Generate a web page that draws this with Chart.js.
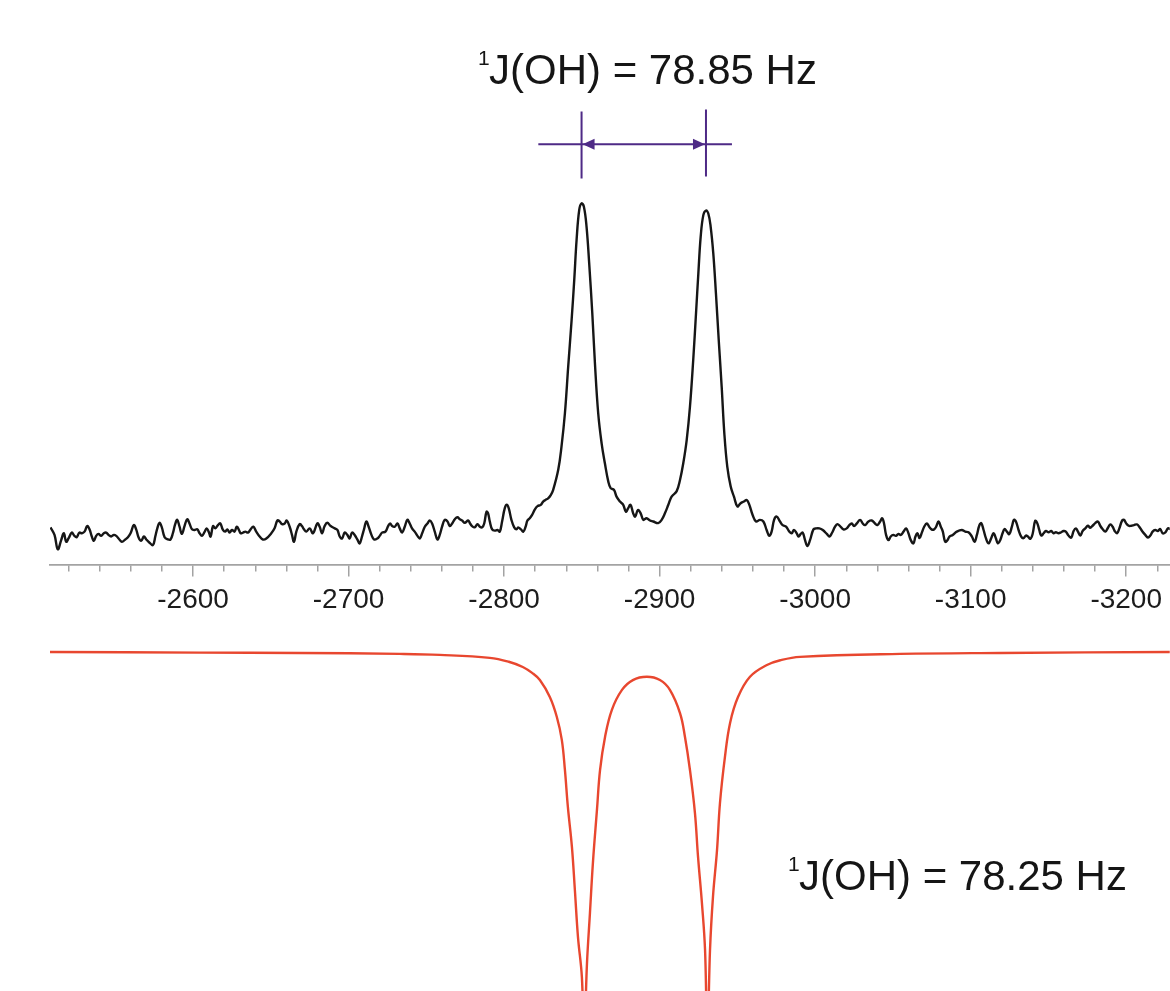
<!DOCTYPE html>
<html lang="en">
<head>
    <meta charset="UTF-8">
    <title>17O NMR doublet</title>
    <script src="https://cdn.jsdelivr.net/npm/chart.js"></script>
    <style>
        html, body { margin: 0; padding: 0; background: #fff; }
        .wrap { width: 1170px; height: 991px; position: relative; }
    </style>
</head>
<body>
    <div class="wrap">
        <canvas id="myChart"></canvas>
    </div>
    <script>
        // measured spectrum: [shift (Hz), intensity] with the tallest line ~100
        const observed = [
            [-2508.3,0.8],[-2510.9,-1.5],[-2513.0,-5.9],[-2515.2,-3.1],[-2516.9,-1.0],[-2518.4,-3.6],[-2519.9,-2.6],[-2522.0,-0.8],
            [-2523.7,-1.8],[-2525.2,-2.2],[-2526.9,-0.8],[-2528.5,-1.0],[-2530.2,-0.5],[-2531.9,1.2],[-2533.4,0.2],[-2534.9,-2.0],
            [-2536.2,-3.3],[-2537.7,-1.8],[-2539.2,-1.2],[-2540.9,-1.8],[-2542.6,-1.0],[-2544.1,-0.8],[-2545.6,-1.5],[-2547.3,-2.0],
            [-2549.1,-1.5],[-2550.6,-1.8],[-2552.1,-2.6],[-2554.2,-3.6],[-2556.4,-2.9],[-2558.1,-2.2],[-2559.8,-1.0],[-2561.9,1.5],
            [-2563.4,0.2],[-2564.9,-2.2],[-2566.6,-3.3],[-2568.4,-2.0],[-2569.9,-2.9],[-2572.0,-3.9],[-2574.2,-4.6],[-2575.7,-2.0],
            [-2577.0,0.5],[-2578.4,2.2],[-2579.9,0.8],[-2581.7,-2.2],[-2583.8,-2.9],[-2585.5,-2.9],[-2587.0,-1.0],[-2588.5,1.8],
            [-2589.8,3.1],[-2591.3,1.0],[-2592.8,-1.2],[-2594.5,1.2],[-2596.2,3.3],[-2597.7,2.0],[-2599.3,0.2],[-2601.0,0.0],
            [-2602.7,0.2],[-2604.2,-1.0],[-2605.7,-1.8],[-2607.4,-0.6],[-2608.7,0.5],[-2610.0,-0.5],[-2611.3,-2.0],[-2612.8,1.2],
            [-2614.3,0.5],[-2616.0,1.5],[-2617.5,2.0],[-2619.2,0.0],[-2620.7,-0.5],[-2622.0,0.2],[-2623.5,-0.8],[-2625.0,0.0],
            [-2626.7,-0.5],[-2628.0,1.0],[-2629.3,0.2],[-2630.6,-1.0],[-2632.1,-0.8],[-2633.6,-0.5],[-2635.3,-0.8],[-2637.0,0.2],
            [-2638.7,1.0],[-2640.6,-0.5],[-2642.8,-2.0],[-2644.9,-2.9],[-2647.1,-2.6],[-2650.3,-1.0],[-2652.4,0.5],[-2654.2,2.9],
            [-2655.7,2.6],[-2657.2,1.8],[-2658.9,2.0],[-2660.2,2.9],[-2662.1,1.0],[-2663.6,-1.5],[-2664.9,-3.6],[-2666.4,-0.5],
            [-2668.5,1.8],[-2670.0,1.2],[-2671.3,0.2],[-2672.8,-0.5],[-2675.0,0.5],[-2677.1,-1.0],[-2679.9,2.0],[-2681.4,1.0],
            [-2682.9,-1.0],[-2684.6,1.2],[-2686.3,2.2],[-2688.5,1.2],[-2691.1,0.5],[-2692.8,0.0],[-2694.3,-2.0],[-2695.8,-2.6],
            [-2697.5,-0.8],[-2699.2,-1.5],[-2700.7,-2.6],[-2702.2,-0.8],[-2703.9,-1.5],[-2705.6,-2.9],[-2707.1,-4.1],[-2708.6,-2.0],
            [-2709.9,0.2],[-2711.4,2.6],[-2712.9,1.0],[-2714.7,-1.5],[-2716.4,-2.9],[-2718.5,-2.6],[-2720.0,-1.8],[-2721.5,-0.8],
            [-2723.7,-0.5],[-2725.4,1.2],[-2726.7,2.0],[-2728.0,1.2],[-2729.7,1.0],[-2731.4,2.0],[-2732.9,0.5],[-2734.4,-0.8],
            [-2736.1,1.0],[-2737.8,3.1],[-2739.3,2.0],[-2740.8,0.5],[-2742.5,-0.5],[-2744.3,-1.8],[-2745.8,-2.6],[-2747.3,-1.0],
            [-2749.0,1.0],[-2750.7,2.0],[-2752.2,2.9],[-2753.7,2.0],[-2755.4,-0.5],[-2757.1,-2.9],[-2758.6,-1.5],[-2760.1,1.0],
            [-2761.8,3.1],[-2763.6,2.6],[-2765.1,1.2],[-2766.6,2.0],[-2768.3,3.3],[-2770.0,3.9],[-2771.5,3.3],[-2773.0,2.9],
            [-2774.7,2.2],[-2776.9,2.9],[-2778.1,2.0],[-2779.4,1.2],[-2781.1,0.8],[-2782.9,1.8],[-2784.4,1.0],[-2785.9,0.8],
            [-2787.2,2.0],[-2788.7,5.6],[-2789.7,5.1],[-2790.8,2.6],[-2792.3,0.2],[-2794.0,-0.2],[-2795.7,0.0],[-2797.2,-0.5],
            [-2798.7,2.6],[-2800.4,6.6],[-2801.7,7.7],[-2803.0,6.6],[-2804.7,3.1],[-2806.5,0.8],[-2808.0,0.2],[-2809.0,0.8],
            [-2810.8,0.2],[-2812.3,-0.5],[-2813.8,1.0],[-2815.0,2.9],[-2816.5,3.6],[-2818.0,4.6],[-2819.8,6.3],[-2821.5,7.3],
            [-2823.6,7.7],[-2825.1,8.7],[-2826.6,9.2],[-2828.3,9.7],[-2830.0,10.7],[-2831.5,12.2],
            // doublet
            [-2834.8,18.4],[-2836.9,25.5],[-2839.1,35.7],[-2841.2,49.9],[-2843.4,64.2],[-2845.1,76.5],[-2846.6,88.7],[-2848.3,97.9],
            [-2849.8,99.9],[-2851.3,98.9],[-2853.0,92.8],[-2854.7,81.6],[-2856.7,66.3],[-2858.4,51.0],[-2860.5,35.7],[-2862.7,26.5],
            [-2864.8,20.4],[-2867.0,14.8],[-2868.5,12.8],[-2870.6,12.3],[-2872.3,10.2],[-2874.5,8.7],[-2876.6,7.7],[-2878.3,5.6],
            [-2879.8,6.7],[-2881.3,7.7],[-2883.0,5.1],[-2884.3,4.1],[-2886.0,6.1],[-2887.8,5.1],[-2889.5,3.1],[-2891.6,3.6],
            [-2893.8,2.9],[-2895.9,2.6],[-2899.1,2.1],[-2901.3,3.1],[-2903.4,5.1],[-2905.6,7.7],[-2907.7,10.2],[-2910.9,11.8],
            [-2913.1,15.3],[-2915.2,20.4],[-2917.4,27.5],[-2919.5,37.7],[-2921.6,52.0],[-2923.4,66.3],[-2924.9,78.5],[-2926.4,89.7],
            [-2928.1,96.3],[-2929.8,97.7],[-2931.3,96.8],[-2932.8,92.8],[-2934.5,84.6],[-2936.2,72.4],[-2938.0,58.1],[-2939.9,43.8],
            [-2941.6,29.6],[-2943.5,19.4],[-2945.7,13.3],[-2947.8,10.2],[-2950.0,7.2],[-2952.1,8.2],[-2954.2,8.7],[-2956.0,9.2],
            [-2957.7,7.7],[-2959.8,4.6],[-2962.0,2.6],[-2964.5,3.1],[-2966.7,2.6],[-2968.8,0.0],[-2970.5,-1.8],[-2972.0,-0.5],
            [-2973.6,3.1],[-2975.3,4.1],[-2977.4,2.6],
            [-2979.1,1.5],[-2981.3,1.0],[-2983.4,-0.5],[-2984.9,-1.0],[-2986.4,0.0],[-2988.1,-1.0],[-2989.4,-2.0],[-2990.7,-1.2],
            [-2992.0,-0.8],[-2993.5,-3.1],[-2995.0,-4.9],[-2996.7,-3.1],[-2998.9,0.2],[-3000.6,0.5],[-3002.7,0.5],[-3004.9,0.0],
            [-3007.5,-1.2],[-3009.2,-2.0],[-3010.7,-1.0],[-3012.8,1.0],[-3014.3,1.8],[-3016.0,1.2],[-3018.2,0.2],[-3020.3,0.5],
            [-3022.0,1.5],[-3023.5,2.0],[-3025.0,1.2],[-3026.8,2.0],[-3028.9,3.1],[-3030.6,2.0],[-3032.1,1.5],[-3034.3,2.6],
            [-3036.4,2.9],[-3038.5,2.0],[-3040.0,1.5],[-3041.8,2.6],[-3043.1,3.6],[-3044.3,2.0],[-3045.6,-1.5],[-3047.1,-3.1],
            [-3048.6,-2.0],[-3050.3,-1.5],[-3051.9,-1.8],[-3053.6,-1.2],[-3055.1,-1.5],[-3056.8,-0.5],[-3058.5,0.5],[-3060.0,-1.0],
            [-3061.5,-3.1],[-3063.2,-4.1],[-3064.5,-2.0],[-3065.8,-1.0],[-3067.1,-2.5],[-3068.6,-0.8],[-3070.1,1.0],[-3071.8,2.0],
            [-3073.3,1.0],[-3074.8,0.2],[-3076.5,0.2],[-3077.8,1.0],[-3079.3,2.6],[-3080.8,1.0],[-3082.1,-0.5],[-3083.6,-3.6],
            [-3085.1,-3.1],[-3086.4,-2.0],[-3088.5,-1.5],[-3091.1,-0.5],[-3094.3,0.0],[-3096.5,-0.5],[-3098.6,-0.7],[-3100.8,-2.0],
            [-3102.5,-3.6],[-3104.0,-1.5],[-3105.5,1.3],[-3106.8,2.1],[-3108.3,0.0],[-3109.8,-2.5],[-3111.5,-4.1],[-3113.2,-2.5],
            [-3114.7,-1.0],[-3116.2,-2.5],[-3117.5,-4.1],[-3119.0,-3.1],[-3120.5,-1.0],[-3121.8,0.3],[-3123.3,-0.5],[-3124.8,-1.3],
            [-3126.5,1.0],[-3127.8,3.1],[-3129.1,2.6],[-3130.8,0.0],[-3132.5,-2.0],[-3134.0,-2.5],[-3135.5,-1.7],[-3136.8,-2.0],
            [-3138.3,-2.7],[-3139.8,-1.3],[-3141.5,2.8],[-3142.8,2.1],[-3144.1,0.0],[-3145.4,-1.7],[-3146.9,-1.0],[-3148.4,-0.3],
            [-3150.1,-0.7],[-3151.8,-0.3],[-3153.3,-1.0],[-3154.8,-0.7],[-3156.5,-1.0],[-3158.2,-0.7],[-3159.7,-0.3],[-3161.2,-0.5],
            [-3162.9,-1.7],[-3164.7,-2.3],[-3166.2,-0.3],[-3167.7,0.5],[-3169.0,-0.5],[-3170.5,-1.7],[-3172.0,-0.3],[-3173.7,0.5],
            [-3175.4,1.3],[-3176.9,0.7],[-3178.4,1.3],[-3180.1,2.1],[-3181.8,2.6],[-3183.3,1.3],[-3184.8,0.3],[-3186.6,-0.5],
            [-3188.3,0.7],[-3189.8,1.7],[-3191.3,1.0],[-3192.6,-0.3],[-3194.1,-1.0],[-3195.6,0.5],[-3197.3,2.8],[-3198.6,3.1],
            [-3199.9,2.1],[-3201.6,1.3],[-3203.3,1.3],[-3205.0,1.5],[-3206.9,1.7],[-3208.4,1.0],[-3210.2,-0.3],[-3212.3,-1.5],
            [-3214.0,-2.3],[-3215.5,-1.7],[-3217.0,-0.5],[-3218.7,0.0],[-3220.4,-0.3],[-3221.9,0.3],[-3223.4,-1.0],[-3225.2,-0.7],
            [-3226.9,0.5],[-3228.4,0.3]
        ];

        // simulated doublet, plotted downwards on its own scale
        const simulated = [
            [-2507.7,0.0],[-2604.2,-0.2],[-2668.5,-0.3],[-2732.9,-0.6],[-2758.6,-0.9],[-2790.8,-1.8],[-2803.0,-3.0],[-2812.0,-4.6],
            [-2818.0,-6.4],[-2823.0,-8.6],[-2829.4,-13.8],[-2833.9,-19.9],[-2837.1,-26.9],[-2839.1,-36.1],[-2841.0,-47.4],
            [-2843.6,-59.6],[-2845.5,-72.8],[-2847.5,-87.2],[-2850.0,-99.4],[-2851.4,-118.7],[-2853.3,-95.1],[-2855.2,-79.8],
            [-2857.1,-64.5],[-2859.7,-48.3],[-2861.7,-36.1],[-2864.9,-26.0],[-2869.3,-17.7],[-2875.8,-11.6],[-2882.8,-8.6],
            [-2891.8,-7.6],[-2900.2,-8.6],[-2906.6,-11.6],[-2913.1,-18.7],[-2916.3,-26.0],[-2919.5,-36.1],[-2922.7,-49.2],
            [-2924.7,-62.7],[-2927.2,-76.8],[-2929.2,-91.1],[-2930.7,-118.7],[-2932.4,-91.1],[-2934.3,-74.9],[-2936.9,-60.6],
            [-2938.8,-46.2],[-2942.0,-32.1],[-2945.3,-21.7],[-2950.4,-13.8],[-2958.1,-7.6],[-2969.0,-4.0],[-2978.0,-2.5],
            [-2990.3,-1.5],[-3054.6,-0.6],[-3119.0,-0.3],[-3228.4,0.0]
        ];

        const shiftRange = [-3228, -2508];
        const majorTicks = [-2600, -2700, -2800, -2900, -3000, -3100, -3200];
        const minorTicks = [-2520, -2540, -2560, -2580, -2620, -2640, -2660, -2680, -2720, -2740, -2760, -2780,
            -2820, -2840, -2860, -2880, -2920, -2940, -2960, -2980, -3020, -3040, -3060, -3080,
            -3120, -3140, -3160, -3180, -3220];
        const doubletPeaks = [-2849.8, -2929.8];
        const couplingText = ['J(OH) = 78.85 Hz', 'J(OH) = 78.25 Hz'];

        const axisLevel = -10.7;       // where the shift axis crosses the intensity scale
        const bracket = { top: 128, bottom: 107.5, arrow: 118, from: -2822, to: -2946.5 };

        const FONT = "'Liberation Sans', Arial, Helvetica, sans-serif";
        const AXIS_GREY = '#a3a3a3';
        const PURPLE = '#4e2a86';

        const toPoints = rows => rows.map(r => ({ x: r[0], y: r[1] }));

        function shiftAxis(ticks, tickLength, showLabels) {
            return {
                type: 'linear',
                axis: 'x',
                min: shiftRange[0],
                max: shiftRange[1],
                reverse: true,
                position: { y: axisLevel },
                afterBuildTicks: axis => { axis.ticks = ticks.map(v => ({ value: v })); },
                grid: { drawOnChartArea: false, drawTicks: true, tickLength: tickLength, color: AXIS_GREY, lineWidth: 1.5 },
                border: { display: true, color: AXIS_GREY, width: 1.5 },
                ticks: {
                    display: showLabels,
                    autoSkip: false,
                    maxRotation: 0,
                    padding: 8,
                    color: '#1c1c1c',
                    font: { family: FONT, size: 28 },
                    callback: v => String(v)
                }
            };
        }

        // bracket over the doublet plus the two coupling labels
        const annotate = {
            id: 'annotate',
            afterDraw(chart) {
                const { ctx } = chart;
                const x = chart.scales.x;
                const y = chart.scales.y;
                const p1 = x.getPixelForValue(doubletPeaks[0]);
                const p2 = x.getPixelForValue(doubletPeaks[1]);
                const yTop = y.getPixelForValue(bracket.top);
                const yBot = y.getPixelForValue(bracket.bottom);
                const yArr = y.getPixelForValue(bracket.arrow);

                ctx.save();
                ctx.strokeStyle = PURPLE;
                ctx.fillStyle = PURPLE;
                ctx.lineWidth = 2;
                ctx.beginPath();
                ctx.moveTo(p1, yTop); ctx.lineTo(p1, yBot);
                ctx.moveTo(p2, yTop - 2); ctx.lineTo(p2, yBot - 2);
                ctx.moveTo(x.getPixelForValue(bracket.from), yArr);
                ctx.lineTo(x.getPixelForValue(bracket.to), yArr);
                ctx.stroke();
                // arrow heads pointing out to each line
                ctx.beginPath();
                ctx.moveTo(p1 + 1, yArr); ctx.lineTo(p1 + 13, yArr - 5.5); ctx.lineTo(p1 + 13, yArr + 5.5); ctx.closePath();
                ctx.moveTo(p2 - 1, yArr); ctx.lineTo(p2 - 13, yArr - 5.5); ctx.lineTo(p2 - 13, yArr + 5.5); ctx.closePath();
                ctx.fill();

                ctx.fillStyle = '#151515';
                ctx.textBaseline = 'alphabetic';
                ctx.textAlign = 'left';
                const label = (text, left, base) => {
                    ctx.font = '21px ' + FONT;
                    ctx.fillText('1', left - 11, base - 19);
                    ctx.font = '42px ' + FONT;
                    ctx.fillText(text, left, base);
                };
                label(couplingText[0], 489, 84);
                label(couplingText[1], 799, 890);
                ctx.restore();
            }
        };

        const ctx = document.getElementById('myChart').getContext('2d');
        const myChart = new Chart(ctx, {
            type: 'line',
            data: {
                datasets: [
                    {
                        label: 'experimental',
                        data: toPoints(observed),
                        borderColor: '#161616',
                        borderWidth: 2.4,
                        pointRadius: 0,
                        tension: 0.4,
                        yAxisID: 'y'
                    },
                    {
                        label: 'simulated',
                        data: toPoints(simulated),
                        borderColor: '#e8472f',
                        borderWidth: 2.4,
                        pointRadius: 0,
                        tension: 0.4,
                        yAxisID: 'ySim'
                    }
                ]
            },
            options: {
                responsive: true,
                maintainAspectRatio: false,
                animation: false,
                layout: { padding: { left: 50, right: 0, top: 0, bottom: 0 } },
                plugins: { legend: { display: false }, tooltip: { enabled: false } },
                scales: {
                    x: shiftAxis(minorTicks, 6, false),
                    xMajor: shiftAxis(majorTicks, 11, true),
                    y: { display: false, min: -141, max: 162.1 },
                    ySim: { display: false, min: -103.7, max: 199.4 }
                }
            },
            plugins: [annotate]
        });
    </script>
</body>
</html>
